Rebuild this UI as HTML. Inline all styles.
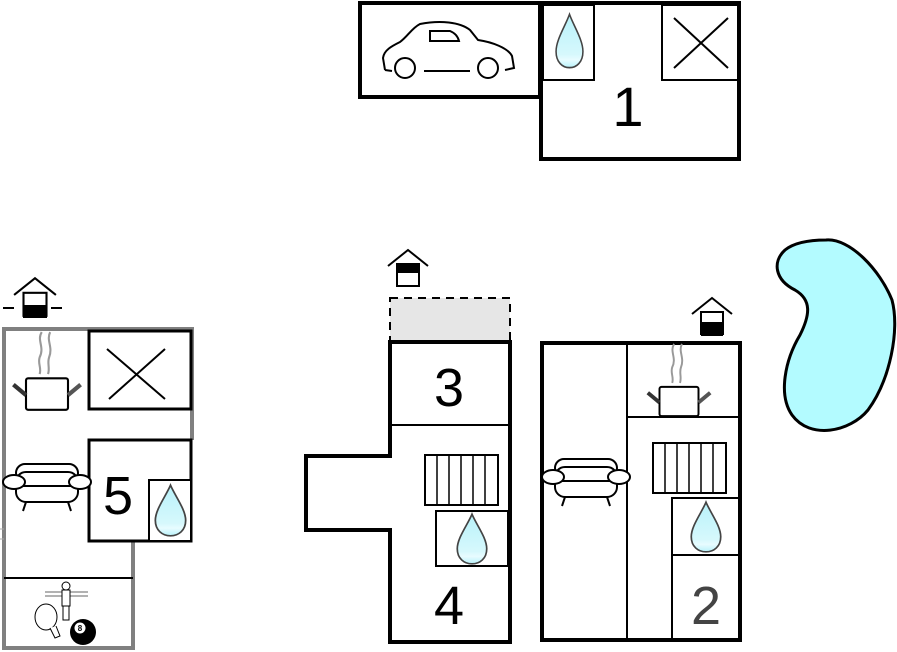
<!DOCTYPE html>
<html><head><meta charset="utf-8"><style>
html,body{margin:0;padding:0;background:#fff;}
svg{display:block;}
text{font-family:"Liberation Sans",sans-serif;}
</style></head><body>
<svg width="897" height="652" viewBox="0 0 897 652" xmlns="http://www.w3.org/2000/svg">
<defs>
<linearGradient id="dg" x1="0" y1="0" x2="0" y2="1">
<stop offset="0" stop-color="#b8f2fa"/><stop offset="0.75" stop-color="#d6f8fc"/><stop offset="0.85" stop-color="#e8fcff"/><stop offset="1" stop-color="#b8f2fa"/>
</linearGradient>
<symbol id="drop" viewBox="0 0 30 50" preserveAspectRatio="none">
<path d="M15,2 C19,12 28,24 28,34 C28,43 22,48 15,48 C8,48 2,43 2,34 C2,24 11,12 15,2 Z" fill="url(#dg)" stroke="#444" stroke-width="1.5"/>
</symbol>
<symbol id="house" viewBox="0 0 44 40">
<polyline points="2,18 22,2 42,18" fill="none" stroke="#000" stroke-width="2"/>
<rect x="11" y="16" width="22" height="22" fill="#fff" stroke="#000" stroke-width="2"/>
</symbol>
<symbol id="sofa" viewBox="0 0 90 50">
<rect x="14" y="2" width="62" height="18" rx="9" fill="#fff" stroke="#000" stroke-width="2"/>
<rect x="14" y="10" width="62" height="30" rx="10" fill="#fff" stroke="#000" stroke-width="2"/>
<line x1="14" y1="24" x2="76" y2="24" stroke="#000" stroke-width="2"/>
<ellipse cx="12" cy="20" rx="11" ry="7" fill="#fff" stroke="#000" stroke-width="2"/>
<ellipse cx="78" cy="20" rx="11" ry="7" fill="#fff" stroke="#000" stroke-width="2"/>
<line x1="24" y1="40" x2="21" y2="49" stroke="#000" stroke-width="2"/>
<line x1="66" y1="40" x2="69" y2="49" stroke="#000" stroke-width="2"/>
</symbol>
<symbol id="pot" viewBox="0 0 70 80">
<path d="M30,2 C25,10 33,16 28,26 C26,32 30,36 28,42" fill="none" stroke="#999" stroke-width="2"/>
<path d="M38,2 C34,10 41,16 37,26 C35,32 38,36 36,42" fill="none" stroke="#999" stroke-width="2"/>
<rect x="15" y="46" width="40" height="30" rx="2" fill="#fff" stroke="#000" stroke-width="2"/>
<line x1="3" y1="52" x2="15" y2="62" stroke="#333" stroke-width="4"/>
<line x1="55" y1="62" x2="67" y2="52" stroke="#555" stroke-width="4"/>
</symbol>
<symbol id="rad" viewBox="0 0 75 52">
<rect x="1" y="1" width="73" height="50" fill="#fff" stroke="#000" stroke-width="2"/>
<path d="M13,1V51M25,1V51M37,1V51M49,1V51M61,1V51" stroke="#000" stroke-width="1.5"/>
</symbol>
</defs>

<!-- top building -->
<rect x="360" y="3" width="180" height="94" fill="#fff" stroke="#000" stroke-width="4"/>
<rect x="541" y="3" width="198" height="156" fill="#fff" stroke="#000" stroke-width="4"/>
<rect x="543" y="5" width="51" height="75" fill="#fff" stroke="#000" stroke-width="2"/>
<rect x="662" y="5" width="76" height="75" fill="#fff" stroke="#000" stroke-width="2"/>
<path d="M674,18 L728,68 M728,18 L674,68" stroke="#000" stroke-width="2"/>
<use href="#drop" x="554" y="12" width="31" height="58"/>
<text x="628" y="126" font-size="56" text-anchor="middle">1</text>
<!-- car -->
<path d="M385,70 L383,58 C384,50 392,46 400,42 C408,36 412,28 420,24 C440,20 460,22 470,30 L478,40 C492,42 508,48 512,56 L514,68 L505,70 M470,71 L424,71 M392,71 L385,70" fill="none" stroke="#000" stroke-width="2"/>
<circle cx="405" cy="68" r="10" fill="#fff" stroke="#000" stroke-width="2"/>
<circle cx="488" cy="68" r="10" fill="#fff" stroke="#000" stroke-width="2"/>
<path d="M430,31 L450,31 C455,33 458,37 459,41 L430,41 Z" fill="none" stroke="#000" stroke-width="2"/>

<!-- pond -->
<path d="M826,240 C850,238 880,270 892,300 C900,330 890,380 868,410 C850,432 810,440 792,415 C778,395 785,360 800,335 C810,315 812,300 795,290 C775,280 772,262 785,250 C795,242 810,240 826,240 Z" fill="#b3fbff" stroke="#000" stroke-width="3"/>

<!-- building 3/4 -->
<use href="#house" x="386" y="248" width="44" height="40"/>
<rect x="398" y="265" width="20" height="8" fill="#000"/>
<rect x="390" y="298" width="120" height="43" fill="#e6e6e6" stroke="#000" stroke-width="2" stroke-dasharray="8,6"/>
<path d="M390,342 H510 V642 H390 V530 H306 V456 H390 Z" fill="#fff" stroke="#000" stroke-width="4"/>
<line x1="390" y1="425" x2="510" y2="425" stroke="#000" stroke-width="2"/>
<use href="#rad" x="424" y="454" width="75" height="52"/>
<rect x="436" y="511" width="72" height="55" fill="#fff" stroke="#000" stroke-width="2"/>
<use href="#drop" x="455" y="512" width="34" height="54"/>
<text x="449" y="406" font-size="54" text-anchor="middle">3</text>
<text x="449" y="624" font-size="54" text-anchor="middle">4</text>

<!-- right building -->
<use href="#house" x="690" y="296" width="44" height="40"/>
<rect x="701" y="322" width="22" height="14" fill="#000"/>
<rect x="542" y="343" width="198" height="297" fill="#fff" stroke="#000" stroke-width="4"/>
<line x1="627" y1="343" x2="627" y2="640" stroke="#000" stroke-width="2"/>
<line x1="627" y1="417" x2="740" y2="417" stroke="#000" stroke-width="2"/>
<use href="#pot" x="643" y="342" width="72" height="78"/>
<use href="#rad" x="652" y="442" width="75" height="52"/>
<path d="M672,640 V498 H740 M672,555 H740" fill="none" stroke="#000" stroke-width="2"/>
<use href="#drop" x="689" y="500" width="34" height="54"/>
<text x="706" y="624" font-size="54" text-anchor="middle" fill="#444">2</text>
<use href="#sofa" x="541" y="457" width="90" height="50"/>

<!-- left building -->
<use href="#house" x="12" y="276" width="46" height="42"/>
<rect x="23" y="305" width="24" height="13" fill="#000"/>
<line x1="3" y1="308" x2="14" y2="308" stroke="#000" stroke-width="2"/>
<line x1="51" y1="308" x2="62" y2="308" stroke="#000" stroke-width="2"/>
<path d="M4,650 V329 H192 V440 M133,542 V648 H4" fill="none" stroke="#808080" stroke-width="4"/>
<line x1="0" y1="529" x2="4" y2="529" stroke="#aaa" stroke-width="1"/>
<line x1="0" y1="539" x2="4" y2="539" stroke="#aaa" stroke-width="1"/>
<rect x="89" y="331" width="102" height="78" fill="#fff" stroke="#000" stroke-width="3"/>
<path d="M107,349 L165,399 M165,349 L109,399" stroke="#000" stroke-width="2"/>
<rect x="89" y="440" width="102" height="101" fill="#fff" stroke="#000" stroke-width="3"/>
<rect x="149" y="480" width="42" height="61" fill="#fff" stroke="#000" stroke-width="2"/>
<use href="#drop" x="153" y="483" width="35" height="55"/>
<text x="118" y="514" font-size="54" text-anchor="middle">5</text>
<use href="#pot" x="8" y="330" width="78" height="84"/>
<use href="#sofa" x="2" y="462" width="90" height="50"/>
<line x1="4" y1="578" x2="133" y2="578" stroke="#000" stroke-width="2"/>
<!-- game icons -->
<path d="M45,592 H88 M45,596 H88" stroke="#666" stroke-width="1"/>
<circle cx="66" cy="586" r="4" fill="#fff" stroke="#000" stroke-width="1"/>
<rect x="62" y="590" width="8" height="16" fill="#fff" stroke="#000" stroke-width="1"/>
<rect x="63" y="606" width="6" height="14" fill="#fff" stroke="#000" stroke-width="1"/>
<ellipse cx="46" cy="617" rx="11" ry="13" fill="#fff" stroke="#000" stroke-width="1"/>
<path d="M50,628 L55,638 L60,636 L56,626" fill="#fff" stroke="#000" stroke-width="1"/>
<circle cx="83" cy="632" r="13" fill="#000"/>
<circle cx="80" cy="628" r="5.5" fill="#fff"/>
<text x="80" y="631" font-size="8" text-anchor="middle" font-weight="bold">8</text>
</svg>
</body></html>
